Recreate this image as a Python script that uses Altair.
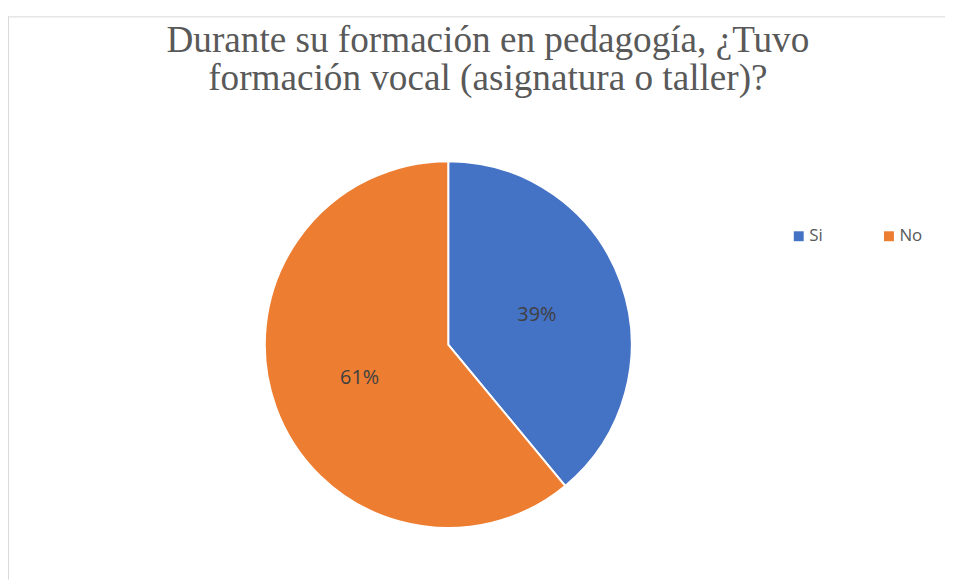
import altair as alt
import pandas as pd

categories = ["Si", "No"]
percentages = [39, 61]
colors = ["#4472C4", "#ED7D31"]
title_lines = ["Durante su formación en pedagogía, ¿Tuvo", "formación vocal (asignatura o taller)?"]

df = pd.DataFrame({
    "cat": categories,
    "pct": percentages,
    "order": list(range(len(categories))),
    "label": [f"{p}%" for p in percentages],
})

W, H = 945, 574
CX, CY, R = 444, 337, 185

base = alt.Chart(df).encode(
    theta=alt.Theta("pct:Q", stack=True),
    order=alt.Order("order:Q"),
)

pie = base.mark_arc(stroke="white", strokeWidth=2).encode(
    x=alt.value(CX), y=alt.value(CY), radius=alt.value(R),
    color=alt.Color(
        "cat:N",
        scale=alt.Scale(domain=categories, range=colors),
        sort=categories,
        legend=alt.Legend(
            title=None,
            orient="none",
            direction="horizontal",
            legendX=789,
            legendY=219,
            symbolType="square",
            padding=0,
        ),
    ),
)

labels = base.mark_text(font="Open Sans", fontSize=20, color="#404040").encode(
    x=alt.value(CX), y=alt.value(CY + 2), radius=alt.value(95), text="label:N"
)

title_df = pd.DataFrame({"t": ["\n".join(title_lines)]})
title = alt.Chart(title_df).mark_text(
    font="Liberation Serif", fontSize=37.5, color="#595959",
    lineBreak="\n", lineHeight=38, baseline="alphabetic", align="center"
).encode(x=alt.value(484), y=alt.value(42), text="t:N")

frame_df = pd.DataFrame({"k": [0]})
top_rule = alt.Chart(frame_df).mark_rule(color="#D9D9D9", strokeWidth=1).encode(
    x=alt.value(0), x2=alt.value(W + 10), y=alt.value(6.5)
)
left_rule = alt.Chart(frame_df).mark_rule(color="#D9D9D9", strokeWidth=1).encode(
    x=alt.value(0.5), y=alt.value(6), y2=alt.value(H)
)

chart = alt.layer(top_rule, left_rule, pie, labels, title).properties(
    width=W, height=H, autosize=alt.AutoSizeParams(type="none"), padding=0
).configure_view(stroke=None).configure_legend(
    symbolSize=100,
    symbolStrokeWidth=0,
    labelFont="Open Sans",
    labelFontSize=17,
    labelColor="#595959",
    labelOffset=2,
    columnPadding=58,
)

chart.save("out.html", embed_options={"renderer": "svg", "actions": False})
